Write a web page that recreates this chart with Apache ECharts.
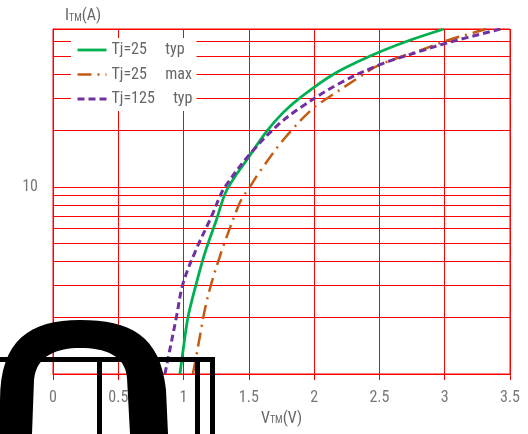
<!DOCTYPE html>
<html>
<head>
    <meta charset="utf-8">
    <title>I-V</title>
    <script src="https://cdn.jsdelivr.net/npm/echarts@6/dist/echarts.min.js"></script>
    <style>
        html, body { margin: 0; padding: 0; background: #fff; }
        #chart { width: 528px; height: 434px; }
    </style>
</head>
<body>
<div id="chart"></div>
<script type="text/javascript">
    // Tj=25 typ
    var vTyp25 = [0.972, 0.997, 1.035, 1.099, 1.163, 1.252, 1.33, 1.494, 1.635, 1.762, 1.889, 2.145, 2.425, 2.706, 2.994];
    var iTyp25 = [1.0, 1.35, 2.03, 3.07, 4.43, 6.68, 9.6, 14.3, 19.8, 25.0, 29.9, 40, 50, 60, 70];
    // Tj=25 max
    var vMax25 = [1.071, 1.092, 1.125, 1.163, 1.214, 1.278, 1.303, 1.418, 1.456, 1.494, 1.584, 1.776, 1.992, 2.106, 2.354, 2.5, 2.859, 3.038, 3.165, 3.318];
    var iMax25 = [1.0, 1.19, 1.59, 2.21, 3.07, 4.26, 4.81, 7.87, 8.9, 9.67, 12.1, 18.3, 26.4, 30.0, 39, 45, 55.3, 61.4, 65.2, 70];
    // Tj=125 typ
    var vTyp125 = [0.857, 0.895, 0.946, 0.997, 1.099, 1.214, 1.278, 1.316, 1.494, 1.711, 1.889, 2.196, 2.502, 2.808, 3.014, 3.43];
    var iTyp125 = [1.0, 1.35, 2.03, 3.07, 4.68, 6.96, 8.9, 10.0, 14.6, 21.1, 26.4, 35.9, 45.1, 53.1, 58.9, 70];

    var names = ['Tj=25     typ', 'Tj=25     max', 'Tj=125     typ'];
    var colors = ['#00b050', '#c55a11', '#7030a0'];
    var dashes = ['solid', [14, 6, 2, 6], [7, 4]];
    var widths = [2.8, 2.5, 3];
    // minor grid lines of the log axis
    var gridValues = [2, 3, 4, 5, 6, 7, 8, 9, 20, 30, 40, 50, 60];

    var font = "'Roboto Condensed', 'Liberation Sans Narrow', 'Arial Narrow', Roboto, sans-serif";
    var red = '#ff0000';

    function pairs(xs, ys) {
        return xs.map(function (x, i) { return [x, ys[i]]; });
    }

    // sample a cubic bezier into points (for the black blob at the bottom left)
    function bez(p0, p1, p2, p3, out) {
        for (var k = 1; k <= 16; k++) {
            var t = k / 16, u = 1 - t;
            out.push([
                u * u * u * p0[0] + 3 * u * u * t * p1[0] + 3 * u * t * t * p2[0] + t * t * t * p3[0],
                u * u * u * p0[1] + 3 * u * u * t * p1[1] + 3 * u * t * t * p2[1] + t * t * t * p3[1]
            ]);
        }
    }
    var blob = [[0, 434], [0, 400]];
    bez([0, 400], [0, 340], [30, 320], [80, 320], blob);
    bez([80, 320], [130, 320], [160, 335], [166, 390], blob);
    blob.push([168, 434], [130, 434], [127, 378]);
    bez([127, 378], [125, 355], [105, 348], [80, 348], blob);
    bez([80, 348], [58, 348], [36, 355], [34, 380], blob);
    blob.push([32, 434]);

    var curves = [pairs(vTyp25, iTyp25), pairs(vMax25, iMax25), pairs(vTyp125, iTyp125)];

    var myChart = echarts.init(document.getElementById('chart'), null, { renderer: 'canvas' });

    var series = [{
        name: 'grid',
        type: 'line',
        data: [],
        z: 1,
        silent: true,
        markLine: {
            z: 1,
            silent: true,
            symbol: ['none', 'none'],
            label: { show: false },
            lineStyle: { color: red, type: 'solid', width: 1 },
            data: gridValues.map(function (v) { return { yAxis: v }; })
        }
    }];
    names.forEach(function (n, k) {
        series.push({
            name: n, type: 'line', z: 3,
            data: curves[k],
            smooth: 0.35, symbol: 'none',
            itemStyle: { color: colors[k] },
            lineStyle: { color: colors[k], width: widths[k], type: dashes[k] }
        });
    });

    var option = {
        animation: false,
        backgroundColor: '#fff',
        grid: {
            left: 53, right: 18, top: 29, bottom: 60,
            show: true, borderColor: red, borderWidth: 1
        },
        legend: {
            data: names.map(function (n, k) {
                return {
                    name: n,
                    itemStyle: { opacity: 0 },
                    lineStyle: { color: colors[k], width: widths[k], type: dashes[k] }
                };
            }),
            orient: 'vertical',
            left: 71, top: 38,
            z: 6,
            backgroundColor: '#fff',
            padding: [4, 4, 4, 5],
            itemWidth: 29, itemHeight: 16, itemGap: 8.5,
            itemStyle: { opacity: 0 },
            textStyle: { color: '#666', fontSize: 16, fontFamily: font }
        },
        xAxis: {
            type: 'value', min: 0, max: 3.5, interval: 0.5,
            name: 'V{s|TM}(V)',
            nameLocation: 'middle', nameGap: 50,
            nameTextStyle: {
                color: '#666', fontSize: 16, fontFamily: font, verticalAlign: 'bottom',
                rich: { s: { fontSize: 10, color: '#666', fontFamily: font, verticalAlign: 'bottom', padding: [0, 0, 1, 0] } }
            },
            axisLine: { lineStyle: { color: red, width: 1 } },
            axisTick: { show: true, length: 6, lineStyle: { color: red } },
            splitLine: { show: true, lineStyle: { color: red, width: 1 } },
            axisLabel: { color: '#777', fontSize: 16, fontFamily: font, margin: 16 }
        },
        yAxis: {
            type: 'log', logBase: 10, min: 1, max: 70,
            name: 'I{s|TM}(A)',
            nameLocation: 'end', nameGap: 5,
            nameTextStyle: {
                color: '#666', fontSize: 16, fontFamily: font, align: 'left', verticalAlign: 'bottom',
                padding: [0, 0, 0, 12],
                rich: { s: { fontSize: 10, color: '#666', fontFamily: font, verticalAlign: 'bottom', padding: [0, 0, 1, 0] } }
            },
            axisLine: { show: true, lineStyle: { color: red, width: 1 } },
            axisTick: { show: false },
            splitLine: { show: true, lineStyle: { color: red, width: 1 } },
            axisLabel: {
                color: '#777', fontSize: 16, fontFamily: font, margin: 15,
                formatter: function (v) { return v === 10 ? '10' : ''; }
            }
        },
        series: series,
        graphic: [
            { type: 'polygon', z: 100, silent: true, shape: { points: blob }, style: { fill: '#000' } },
            { type: 'rect', z: 100, silent: true, shape: { x: 0, y: 357, width: 215, height: 5 }, style: { fill: '#000' } },
            { type: 'rect', z: 100, silent: true, shape: { x: 97, y: 357, width: 5, height: 77 }, style: { fill: '#000' } },
            { type: 'rect', z: 100, silent: true, shape: { x: 195, y: 357, width: 5, height: 77 }, style: { fill: '#000' } },
            { type: 'rect', z: 100, silent: true, shape: { x: 210, y: 357, width: 5, height: 77 }, style: { fill: '#000' } }
        ]
    };

    myChart.setOption(option);
    window.addEventListener('resize', myChart.resize);
</script>
</body>
</html>
